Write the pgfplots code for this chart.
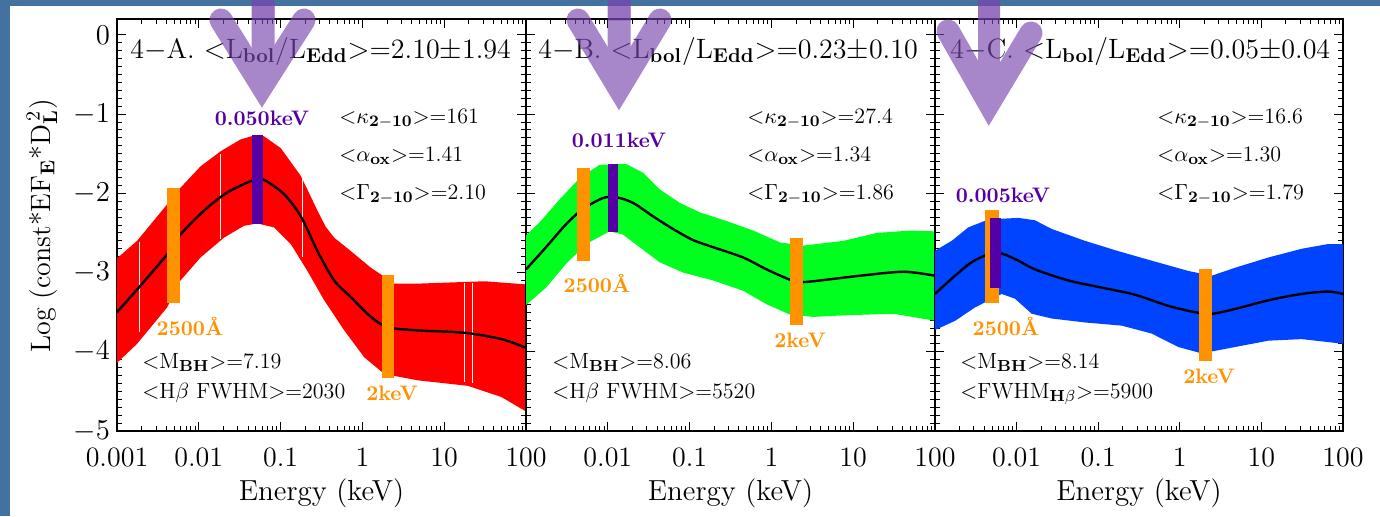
\documentclass[border=0pt]{standalone}
\usepackage{pgfplots}
\pgfplotsset{compat=1.18}
\usepackage{pgfplotstable}
\definecolor{bgstrip}{RGB}{68,114,160}
\definecolor{myorange}{RGB}{255,146,0}
\definecolor{mypurple}{RGB}{85,0,165}
\definecolor{myred}{RGB}{255,0,0}
\definecolor{mygreen}{RGB}{0,255,30}
\definecolor{myblue}{RGB}{0,68,255}
\definecolor{arrowc}{RGB}{120,70,175}

% band polygons: upper edge left->right, lower edge right->left (x = log10 E)
\pgfplotstableread{
lx y
-3.010 -2.83
-2.755 -2.60
-2.387 -2.14
-2.224 -1.93
-1.979 -1.66
-1.734 -1.47
-1.489 -1.32
-1.325 -1.27
-1.203 -1.28
-0.998 -1.43
-0.753 -1.78
-0.650 -2.00
-0.549 -2.22
-0.450 -2.42
-0.345 -2.56
-0.141 -2.73
0.105 -2.94
0.391 -3.14
0.676 -3.14
1.493 -3.11
2.010 -3.15
2.010 -4.76
1.698 -4.57
1.289 -4.43
0.676 -4.36
0.268 -4.28
0.023 -4.07
-0.222 -3.73
-0.467 -3.35
-0.672 -2.98
-0.876 -2.64
-1.080 -2.43
-1.284 -2.38
-1.448 -2.41
-1.693 -2.56
-1.979 -2.81
-2.224 -3.10
-2.387 -3.44
-2.755 -3.90
-3.010 -4.15
}\bandA
\pgfplotstableread{
lx y
-3.000 -3.50
-2.734 -3.19
-2.387 -2.77
-2.224 -2.52
-1.938 -2.22
-1.652 -1.99
-1.325 -1.83
-1.203 -1.83
-0.958 -2.01
-0.753 -2.29
-0.549 -2.73
-0.345 -3.10
-0.141 -3.31
0.105 -3.56
0.309 -3.69
0.676 -3.73
1.248 -3.76
1.698 -3.84
2.000 -3.95
}\medA
\pgfplotstableread{
lx y
-3.010 -2.54
-2.837 -2.37
-2.592 -2.08
-2.346 -1.81
-2.101 -1.64
-1.775 -1.63
-1.570 -1.74
-1.366 -1.95
-1.121 -2.12
-0.876 -2.24
-0.549 -2.35
-0.222 -2.47
0.105 -2.62
0.391 -2.66
0.881 -2.60
1.289 -2.50
1.698 -2.47
2.010 -2.48
2.010 -3.61
1.493 -3.52
0.881 -3.54
0.513 -3.56
0.227 -3.53
-0.059 -3.40
-0.345 -3.23
-0.712 -3.10
-1.080 -3.00
-1.366 -2.87
-1.611 -2.68
-1.815 -2.52
-1.979 -2.48
-2.265 -2.64
-2.510 -2.89
-2.755 -3.19
-3.010 -3.42
}\bandB
\pgfplotstableread{
lx y
-3.000 -2.96
-2.755 -2.68
-2.510 -2.39
-2.306 -2.20
-2.060 -2.06
-1.897 -2.05
-1.693 -2.12
-1.448 -2.29
-1.203 -2.45
-0.958 -2.59
-0.712 -2.68
-0.345 -2.81
-0.059 -2.96
0.227 -3.09
0.391 -3.12
0.676 -3.09
1.085 -3.04
1.616 -2.99
2.000 -3.04
}\medB
\pgfplotstableread{
lx y
-3.010 -2.73
-2.796 -2.60
-2.592 -2.43
-2.346 -2.33
-1.979 -2.31
-1.775 -2.34
-1.570 -2.45
-1.162 -2.60
-0.753 -2.73
-0.345 -2.85
0.105 -2.98
0.391 -3.04
0.676 -2.94
1.085 -2.81
1.493 -2.70
1.820 -2.64
2.010 -2.64
2.010 -3.90
1.493 -3.84
1.085 -3.86
0.676 -3.94
0.268 -4.02
-0.018 -3.94
-0.345 -3.77
-0.712 -3.67
-1.162 -3.63
-1.570 -3.58
-1.815 -3.52
-2.020 -3.33
-2.183 -3.27
-2.510 -3.44
-2.755 -3.61
-3.010 -3.73
}\bandC
\pgfplotstableread{
lx y
-3.000 -3.27
-2.755 -3.04
-2.551 -2.87
-2.346 -2.77
-2.183 -2.76
-1.979 -2.85
-1.775 -2.96
-1.366 -3.10
-0.958 -3.19
-0.549 -3.28
-0.141 -3.42
0.186 -3.50
0.391 -3.52
0.676 -3.46
1.085 -3.35
1.493 -3.27
1.820 -3.24
2.000 -3.27
}\medC

\newcommand{\vbar}[5]{\addplot[fill=#5, draw=none] table[x expr=10^(\thisrow{lx}), y=y, row sep=\\] {lx y\\ #1 #3\\ #2 #3\\ #2 #4\\ #1 #4\\} -- cycle;}
\newcommand{\wline}[3]{\addplot[white, line width=0.5pt] table[x expr=10^(\thisrow{lx}), y=y, row sep=\\] {lx y\\ #1 #2\\ #1 #3\\};}

\begin{document}
\begin{tikzpicture}
\path[use as bounding box] (0,0) rectangle (690pt,-258pt);
\begin{scope}[x=0.5pt,y=-0.5pt]
\fill[bgstrip] (0,0) rectangle (1380,516);
\fill[white] (10,6) rectangle (1380,516);
\end{scope}

% ---------- Panel A ----------
\begin{axis}[at={(58.5pt,-215.5pt)}, anchor=south west,
  scale only axis, width=204.5pt, height=206pt,
  xmode=log, xmin=0.001, xmax=100, ymin=-5, ymax=0.2,
  xtick={0.001,0.01,0.1,1,10,100},
  minor xtick={0.002,0.003,0.004,0.005,0.006,0.007,0.008,0.009,0.02,0.03,0.04,0.05,0.06,0.07,0.08,0.09,0.2,0.3,0.4,0.5,0.6,0.7,0.8,0.9,2,3,4,5,6,7,8,9,20,30,40,50,60,70,80,90},
  ytick={-5,-4,-3,-2,-1,0},
  minor y tick num=9,
  tick align=inside,
  major tick length=4.5pt, minor tick length=2.5pt,
  every tick/.style={black, line width=0.5pt},
  axis line style={line width=0.8pt},
  tick label style={font=\fontsize{14}{16}\selectfont},
  xticklabel style={yshift=-5pt},
  xticklabels={0.001,0.01,0.1,1,10,100}]
\addplot[fill=myred, draw=none] table[x expr=10^(\thisrow{lx}), y=y] {\bandA} -- cycle;
\wline{-2.73}{-2.62}{-3.75}
\wline{-1.73}{-1.51}{-2.58}
\wline{-0.73}{-1.80}{-2.81}
\wline{1.25}{-3.13}{-4.38}
\wline{1.34}{-3.13}{-4.40}
\addplot[black, line width=1.2pt, smooth] table[x expr=10^(\thisrow{lx}), y=y] {\medA};
\vbar{-2.39}{-2.23}{-3.39}{-1.93}{myorange}
\vbar{0.235}{0.39}{-4.33}{-3.03}{myorange}
\vbar{-1.345}{-1.215}{-2.39}{-1.27}{mypurple}
\end{axis}

% ---------- Panel B ----------
\begin{axis}[at={(263pt,-215.5pt)}, anchor=south west,
  scale only axis, width=204.5pt, height=206pt,
  xmode=log, xmin=0.001, xmax=100, ymin=-5, ymax=0.2,
  xtick={0.001,0.01,0.1,1,10,100},
  minor xtick={0.002,0.003,0.004,0.005,0.006,0.007,0.008,0.009,0.02,0.03,0.04,0.05,0.06,0.07,0.08,0.09,0.2,0.3,0.4,0.5,0.6,0.7,0.8,0.9,2,3,4,5,6,7,8,9,20,30,40,50,60,70,80,90},
  ytick={-5,-4,-3,-2,-1,0},
  minor y tick num=9,
  tick align=inside,
  major tick length=4.5pt, minor tick length=2.5pt,
  every tick/.style={black, line width=0.5pt},
  axis line style={line width=0.8pt},
  tick label style={font=\fontsize{14}{16}\selectfont},
  xticklabel style={yshift=-5pt},
  xticklabels={,0.01,0.1,1,10,100}, yticklabels={}]
\addplot[fill=mygreen, draw=none] table[x expr=10^(\thisrow{lx}), y=y] {\bandB} -- cycle;
\addplot[black, line width=1.2pt, smooth] table[x expr=10^(\thisrow{lx}), y=y] {\medB};
\vbar{-2.38}{-2.22}{-2.85}{-1.68}{myorange}
\vbar{0.227}{0.39}{-3.66}{-2.56}{myorange}
\vbar{-2.00}{-1.87}{-2.49}{-1.63}{mypurple}
\end{axis}

% ---------- Panel C ----------
\begin{axis}[at={(467.5pt,-215.5pt)}, anchor=south west,
  scale only axis, width=204pt, height=206pt,
  xmode=log, xmin=0.001, xmax=100, ymin=-5, ymax=0.2,
  xtick={0.001,0.01,0.1,1,10,100},
  minor xtick={0.002,0.003,0.004,0.005,0.006,0.007,0.008,0.009,0.02,0.03,0.04,0.05,0.06,0.07,0.08,0.09,0.2,0.3,0.4,0.5,0.6,0.7,0.8,0.9,2,3,4,5,6,7,8,9,20,30,40,50,60,70,80,90},
  ytick={-5,-4,-3,-2,-1,0},
  minor y tick num=9,
  tick align=inside,
  major tick length=4.5pt, minor tick length=2.5pt,
  every tick/.style={black, line width=0.5pt},
  axis line style={line width=0.8pt},
  tick label style={font=\fontsize{14}{16}\selectfont},
  xticklabel style={yshift=-5pt},
  xticklabels={,0.01,0.1,1,10,100}, yticklabels={}]
\addplot[fill=myblue, draw=none] table[x expr=10^(\thisrow{lx}), y=y] {\bandC} -- cycle;
\addplot[black, line width=1.2pt, smooth] table[x expr=10^(\thisrow{lx}), y=y] {\medC};
\vbar{-2.39}{-2.22}{-3.39}{-2.21}{myorange}
\vbar{0.235}{0.39}{-4.11}{-2.95}{myorange}
\vbar{-2.32}{-2.19}{-3.20}{-2.31}{mypurple}
\end{axis}

\begin{scope}[x=0.5pt,y=-0.5pt]
% axis labels
\foreach \cx in {321.5,730.5,1139}{
  \node[anchor=base, inner sep=0, font=\fontsize{14.5}{16}\selectfont] at (\cx,500) {Energy (keV)};
}
\node[rotate=90, inner sep=0, font=\fontsize{14}{16}\selectfont] at (42,226) {Log (const*EF$_{\mathbf{E}}$*D$_{\mathbf{L}}^{\,2}$)};

% titles
\tikzset{ttl/.style={anchor=base west, inner sep=0, font=\fontsize{14}{16}\selectfont}}
\node[ttl] at (130,58) {4$-$A. $<$L$_{\mathbf{bol}}$/L$_{\mathbf{Edd}}$$>$=2.10$\pm$1.94};
\node[ttl] at (538,58) {4$-$B. $<$L$_{\mathbf{bol}}$/L$_{\mathbf{Edd}}$$>$=0.23$\pm$0.10};
\node[ttl] at (950,58) {4$-$C. $<$L$_{\mathbf{bol}}$/L$_{\mathbf{Edd}}$$>$=0.05$\pm$0.04};

% parameter annotations
\tikzset{ann/.style={anchor=base west, inner sep=0, font=\fontsize{11}{13}\selectfont, text=black}}
\node[ann] at (339,123) {$<$$\kappa_{\mathbf{2-10}}$$>$=161};
\node[ann] at (339,161) {$<$$\alpha_{\mathbf{ox}}$$>$=1.41};
\node[ann] at (339,199) {$<$$\Gamma_{\mathbf{2-10}}$$>$=2.10};
\node[ann] at (747,123) {$<$$\kappa_{\mathbf{2-10}}$$>$=27.4};
\node[ann] at (747,161) {$<$$\alpha_{\mathbf{ox}}$$>$=1.34};
\node[ann] at (747,199) {$<$$\Gamma_{\mathbf{2-10}}$$>$=1.86};
\node[ann] at (1157,123) {$<$$\kappa_{\mathbf{2-10}}$$>$=16.6};
\node[ann] at (1157,161) {$<$$\alpha_{\mathbf{ox}}$$>$=1.30};
\node[ann] at (1157,199) {$<$$\Gamma_{\mathbf{2-10}}$$>$=1.79};

\node[ann] at (142,368) {$<$M$_{\mathbf{BH}}$$>$=7.19};
\node[ann] at (142,398) {$<$H$\beta$ FWHM$>$=2030};
\node[ann] at (552,368) {$<$M$_{\mathbf{BH}}$$>$=8.06};
\node[ann] at (552,398) {$<$H$\beta$ FWHM$>$=5520};
\node[ann] at (960,368) {$<$M$_{\mathbf{BH}}$$>$=8.14};
\node[ann] at (960,398) {$<$FWHM$_{\mathbf{H}\beta}$$>$=5900};

% marker labels
\tikzset{olab/.style={anchor=base, inner sep=0, font=\fontsize{10.5}{12}\selectfont\bfseries, text=myorange},
         plab/.style={anchor=base, inner sep=0, font=\fontsize{10.5}{12}\selectfont\bfseries, text=mypurple}}
\node[olab] at (190,335) {2500\AA};
\node[olab] at (392,400) {2keV};
\node[olab] at (597,292) {2500\AA};
\node[olab] at (800,347) {2keV};
\node[olab] at (1006,335) {2500\AA};
\node[olab] at (1209,383) {2keV};
\node[plab] at (262,125) {0.050keV};
\node[plab] at (619,147) {0.011keV};
\node[plab] at (1003,202) {0.005keV};

% arrows
\begin{scope}
\clip (0,0) rectangle (1380,516);
\begin{scope}[transparency group, opacity=0.65]
\draw[arrowc, line width=11.5pt, line cap=round, line join=miter] (221,20) -- (262,86) -- (304,20);
\fill[arrowc] (251.5,0) rectangle (274.5,86);
\end{scope}
\begin{scope}[transparency group, opacity=0.65]
\draw[arrowc, line width=11.5pt, line cap=round, line join=miter] (578,20) -- (619,88) -- (660,20);
\fill[arrowc] (607.5,0) rectangle (630.5,88);
\end{scope}
\begin{scope}[transparency group, opacity=0.65]
\draw[arrowc, line width=11.5pt, line cap=round, line join=miter] (948,31) -- (989,103) -- (1031,33);
\fill[arrowc] (978,0) rectangle (1000,103);
\end{scope}
\fill[arrowc, opacity=0.3] (251.5,0) rectangle (274.5,19);
\fill[arrowc, opacity=0.3] (607.5,0) rectangle (630.5,21);
\fill[arrowc, opacity=0.3] (978,0) rectangle (1000,19);
\end{scope}
\end{scope}
\end{tikzpicture}
\end{document}
